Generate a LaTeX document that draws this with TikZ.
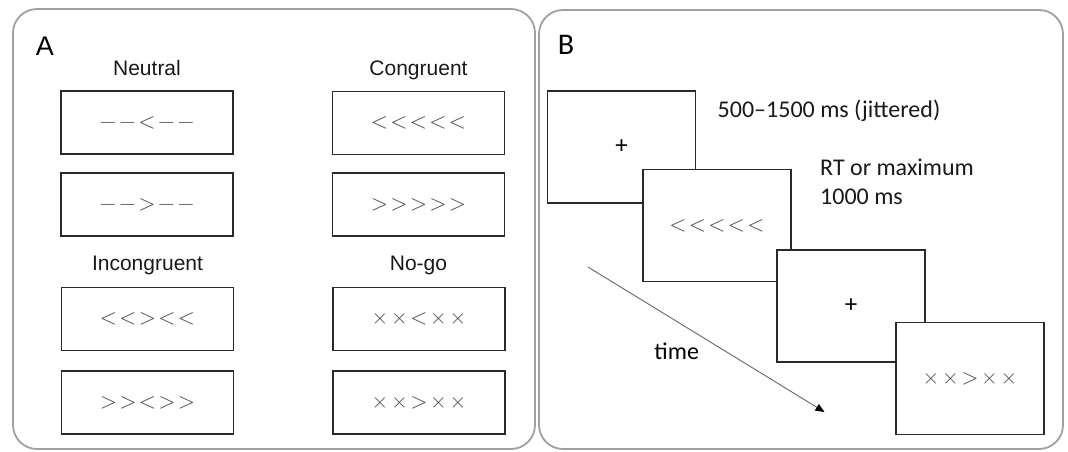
\documentclass[tikz,border=0pt]{standalone}
\usepackage{fontspec}
\usetikzlibrary{arrows.meta}
\newfontfamily\arialf{Liberation Sans}
\newfontfamily\calf{Carlito}
\definecolor{panelgray}{HTML}{A0A0A0}
\definecolor{boxline}{HTML}{2A2A2A}
\definecolor{stimgray}{HTML}{444444}
\definecolor{arrowgray}{HTML}{666666}
\newcommand{\stimch}[1]{\makebox[19.5pt]{#1}}
\newcommand{\stimrow}[5]{\stimch{#1}\stimch{#2}\stimch{#3}\stimch{#4}\stimch{#5}}
\newcommand{\mns}{\symbol{"2212}}
\newcommand{\tms}{\symbol{"00D7}}
\begin{document}
\begin{tikzpicture}[x=1pt,y=-1pt,
  panel/.style={draw=panelgray, line width=1.8pt, rounded corners=24pt, inner sep=0pt},
  abox/.style={draw=boxline, line width=1.4pt, fill=white, minimum width=172pt, minimum height=63pt, inner sep=0pt, text=stimgray, font=\fontsize{22.5}{27}\selectfont},
  bbox/.style={draw=boxline, line width=1.3pt, fill=white, minimum width=148pt, minimum height=112pt, inner sep=0pt, text=stimgray, font=\fontsize{22.5}{27}\selectfont},
  plus/.style={text=black, font=\calf\fontsize{25}{30}\selectfont},
  alabel/.style={font=\arialf\fontsize{21}{25}\selectfont, anchor=base, inner sep=0pt, text=black!90},
  blabel/.style={font=\calf\fontsize{24}{29}\selectfont, anchor=base west, inner sep=0pt, text=black!90},
]
\useasboundingbox (0,0) rectangle (1068,451);
% panels
\draw[panel] (13,9) rectangle (535,449);
\draw[panel] (539,10) rectangle (1063,449);
% panel A
\node[anchor=base, inner sep=0pt, font=\arialf\fontsize{27}{32}\selectfont] (labA) at (45,55) {A};
\node[alabel] (neutral) at (147,75) {Neutral};
\node[alabel] (congruent) at (418.5,75) {Congruent};
\node[alabel] (incongruent) at (147.5,270) {Incongruent};
\node[alabel] (nogo) at (418.5,270) {No-go};
\node[abox] (n1) at (147,122.5) {\stimrow{\mns}{\mns}{<}{\mns}{\mns}};
\node[abox] (n2) at (147,204.5) {\stimrow{\mns}{\mns}{>}{\mns}{\mns}};
\node[abox] (i1) at (147.5,319) {\stimrow{<}{<}{>}{<}{<}};
\node[abox] (i2) at (147.5,402.5) {\stimrow{>}{>}{<}{>}{>}};
\node[abox] (c1) at (418.5,123) {\stimrow{<}{<}{<}{<}{<}};
\node[abox] (c2) at (418.5,204.5) {\stimrow{>}{>}{>}{>}{>}};
\node[abox] (g1) at (419,319) {\stimrow{\tms}{\tms}{<}{\tms}{\tms}};
\node[abox] (g2) at (419,402.5) {\stimrow{\tms}{\tms}{>}{\tms}{\tms}};
% panel B
\node[anchor=base, inner sep=0pt, font=\calf\fontsize{30}{36}\selectfont] (labB) at (566,54) {B};
\node[bbox] (b1) at (621.5,147) {};
\node[plus] (p1) at (b1.center) {+};
\node[bbox] (b2) at (717,225.5) {\stimrow{<}{<}{<}{<}{<}};
\node[bbox] (b3) at (851,306) {};
\node[plus] (p3) at (b3.center) {+};
\node[bbox] (b4) at (970,378.5) {\stimrow{\tms}{\tms}{>}{\tms}{\tms}};
\node[blabel] (t1) at (717.5,117.7) {500–1500 ms (jittered)};
\node[blabel] (t2) at (820,175) {RT or maximum};
\node[blabel] (t3) at (820,204) {1000 ms};
\node[anchor=base, inner sep=0pt, font=\calf\fontsize{24}{29}\selectfont] (time) at (676.7,359) {time};
\coordinate (ts) at (588,267);
\coordinate (te) at (824.5,412);
\draw[draw=arrowgray, line width=0.9pt, -{Triangle[length=9pt,width=7.5pt,color=black]}] (ts) -- (te);
\end{tikzpicture}
\end{document}
